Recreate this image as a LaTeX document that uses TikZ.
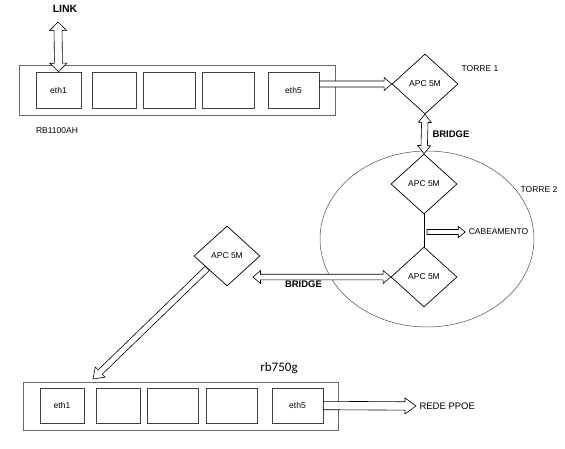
\documentclass[tikz,border=0pt]{standalone}
\usepackage{fontspec}
\setmainfont{Liberation Sans}
\newfontfamily\calibrifont{Carlito}
\usetikzlibrary{calc,shapes.geometric,positioning}

\tikzset{
  fatsize/.code n args={3}{\def\fatw{#1}\def\fath{#2}\def\fatl{#3}},
  fatsize={3pt}{6pt}{7.5pt},
  fat/.style={draw,fill=white,line width=0.6pt,to path={
    let \p1=(\tikztostart), \p2=(\tikztotarget),
        \n1={atan2(\y2-\y1,\x2-\x1)}, \n2={veclen(\x2-\x1,\y2-\y1)} in
    {[shift={(\p1)},rotate=\n1]
     (0pt,-\fatw) -- (\n2-\fatl,-\fatw) -- (\n2-\fatl,-\fath) -- (\n2,0pt)
     -- (\n2-\fatl,\fath) -- (\n2-\fatl,\fatw) -- (0pt,\fatw) -- cycle}}},
  fatboth/.style={draw,fill=white,line width=0.6pt,to path={
    let \p1=(\tikztostart), \p2=(\tikztotarget),
        \n1={atan2(\y2-\y1,\x2-\x1)}, \n2={veclen(\x2-\x1,\y2-\y1)} in
    {[shift={(\p1)},rotate=\n1]
     (0pt,0pt) -- (\fatl,-\fath) -- (\fatl,-\fatw) -- (\n2-\fatl,-\fatw) -- (\n2-\fatl,-\fath)
     -- (\n2,0pt) -- (\n2-\fatl,\fath) -- (\n2-\fatl,\fatw) -- (\fatl,\fatw) -- (\fatl,\fath) -- cycle}}},
}

\begin{document}
\begin{tikzpicture}[x=1pt,y=-1pt,
  box/.style={draw=black!60,line width=0.6pt,inner sep=0pt,minimum height=#1},
  port/.style={draw=black!75,line width=0.6pt,inner sep=0pt,minimum width=#1,font=\fontsize{8.5}{9}\selectfont},
  apc/.style={diamond,draw,line width=0.7pt,inner sep=0pt,minimum width=66pt,minimum height=60pt,font=\fontsize{8.5}{9}\selectfont},
  tag/.style={font=\fontsize{8.5}{10}\selectfont},
  bold/.style={font=\fontsize{9.5}{10}\selectfont\bfseries}]
\useasboundingbox (0,0) rectangle (565,448);

% RB1100AH
\node[box=50pt,minimum width=316pt] (rbA) at (177,90) {};
\node[port=45pt,minimum height=36pt] (ethA1) at (58.5,90) {eth1};
\node[port=44pt,minimum height=36pt] (ethA2) at (114,90) {};
\node[port=52pt,minimum height=36pt] (ethA3) at (169,90) {};
\node[port=52pt,minimum height=36pt] (ethA4) at (228,90) {};
\node[port=51pt,minimum height=36pt] (ethA5) at (293.5,90) {eth5};
\node[tag] (nameA) at (57,131) {RB1100AH};

\node[font=\fontsize{10.5}{11}\selectfont\bfseries] (link) at (65,9) {LINK};
\coordinate (linkend) at (58,22);

% torres
\node[ellipse,draw=black!70,line width=0.5pt,minimum width=214pt,minimum height=176pt] (torre) at (427,239) {};
\node[apc] (apcA) at (425,84) {APC 5M};
\node[tag] at (480,69) {TORRE 1};
\node[tag] at (539,190) {TORRE 2};
\node[apc] (apcB) at (424,184) {APC 5M};
\node[apc] (apcC) at (424,277) {APC 5M};
\node[tag] (cabo) at (498.5,232) {CABEAMENTO};
\coordinate (cabstart) at (427,232);

\node[apc] (apcD) at (227,256) {APC 5M};
\coordinate (brl) at (253,275);
\coordinate (rbtop) at (93,379);

% rb750g
\node[font=\calibrifont\fontsize{13}{14}\selectfont] (nameB) at (279,368) {rb750g};
\node[box=48pt,minimum width=315pt] (rbB) at (180.5,406) {};
\node[port=44pt,minimum height=35pt] (ethB1) at (62,405.5) {eth1};
\node[port=44pt,minimum height=35pt] (ethB2) at (118,405.5) {};
\node[port=51pt,minimum height=35pt] (ethB3) at (172.5,405.5) {};
\node[port=51pt,minimum height=35pt] (ethB4) at (231.5,405.5) {};
\node[port=51pt,minimum height=35pt] (ethB5) at (297.5,405.5) {eth5};
\node[font=\fontsize{9.5}{10}\selectfont,anchor=west] (ppoe) at (416,406) {REDE PPOE};

\draw[fatboth,fatsize={4pt}{8.5pt}{8.5pt}] (linkend) to (ethA1.north);
\draw[fat,fatsize={3pt}{6.5pt}{7.5pt}] (ethA5.east |- apcA) to (apcA.west);
\draw[fatboth,fatsize={3.2pt}{6.5pt}{8pt}] (apcA.south) to (apcB.north);
\node[bold] at (451,134) {BRIDGE};
\draw[line width=1pt] (apcB.south) -- (apcC.north);
\draw[fat,fatsize={2.5pt}{5.5pt}{7pt}] (cabstart) to (cabo.west);
\draw[fatboth,fatsize={2.8pt}{6.5pt}{7.5pt}] (apcC.west) to (apcC.west -| brl);
\node[bold] at (303.5,284) {BRIDGE};
\draw[fat,fatsize={3pt}{7pt}{10pt}] (apcD.212) to (rbtop);
\draw[fat,fatsize={4.2pt}{8pt}{11pt}] (ethB5.east) to (ppoe.west);

\end{tikzpicture}
\end{document}
